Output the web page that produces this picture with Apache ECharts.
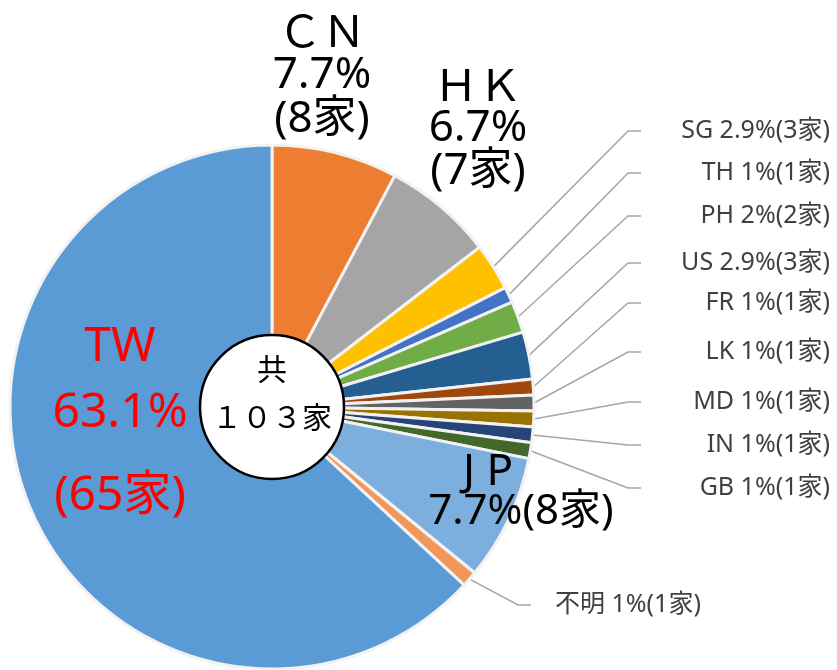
<!DOCTYPE html>
<html><head><meta charset="utf-8">
<script src="https://cdn.jsdelivr.net/npm/echarts@6/dist/echarts.min.js"></script>
<style>html,body{margin:0;padding:0;background:#fff}#c{width:837px;height:670px}</style>
</head><body><div id="c"></div>
<script>
// ---- data ----
const categories = ['CN','HK','SG','TH','PH','US','FR','LK','MD','IN','GB','JP','不明','TW'];
const counts     = [8, 7, 3, 1, 2, 3, 1, 1, 1, 1, 1, 8, 1, 65];
const pctLabels  = ['7.7%','6.7%','2.9%','1%','2%','2.9%','1%','1%','1%','1%','1%','7.7%','1%','63.1%'];
const totalText  = '共';

// ---- styles ----
const colors = ['#ED7D31','#A5A5A5','#FFC000','#4472C4','#70AD47','#255E91','#9E480E','#636363','#997300','#264478','#43682B','#7CAFDD','#F1975A','#5B9BD5'];
const FONT = "'Noto Sans','Noto Sans CJK JP',sans-serif";
const SMALL = 25;
const labelPos = {
  CN:{x:322,y:78,align:'center'}, HK:{x:478,y:131,align:'center'},
  TW:{x:120,y:415,align:'center'}, JP:{x:521,y:490,align:'center'},
  SG:{x:830,y:131,align:'right'}, TH:{x:830,y:173,align:'right'},
  PH:{x:830,y:216,align:'right'}, US:{x:830,y:263,align:'right'},
  FR:{x:830,y:303,align:'right'}, LK:{x:830,y:352,align:'right'},
  MD:{x:830,y:402,align:'right'}, IN:{x:830,y:445,align:'right'},
  GB:{x:830,y:488,align:'right'}, '不明':{x:531,y:605,align:'left'}
};
const bigLines = { CN:[47,35,53], HK:[47,33,53] };
const LINE_END_X = 641;
const fw = s => s.replace(/[0-9A-Za-z]/g, ch => String.fromCharCode(ch.charCodeAt(0)+0xFEE0));
const total = counts.reduce((a,b)=>a+b,0);
const mctx = document.createElement('canvas').getContext('2d');
mctx.font = SMALL + 'px ' + FONT;
const textW = s => mctx.measureText(s).width;

const data = categories.map((c,i)=>{
  const item = {name:c, value:counts[i], itemStyle:{color:colors[i]}};
  const cnt = '(' + counts[i] + '家)';
  if (c==='CN' || c==='HK') {
    const lh = bigLines[c];
    const st = h => ({fontSize:44, lineHeight:h, color:'#000', fontFamily:FONT, align:'center'});
    item.label = {formatter: '{a|'+fw(c)+'}\n{b|'+pctLabels[i]+'}\n{c|'+cnt+'}', color:'#000',
      rich:{a:st(lh[0]), b:st(lh[1]), c:st(lh[2])}};
    item.labelLine = {show:false};
  } else if (c==='TW') {
    item.label = {formatter: '{h|'+c+'}\n{t|'+pctLabels[i]+'}\n{g| }\n{t|'+cnt+'}', color:'#FF0000',
      rich:{h:{fontSize:48, lineHeight:80, color:'#FF0000', fontFamily:FONT, align:'center'},
            t:{fontSize:48, lineHeight:52, color:'#FF0000', fontFamily:FONT, align:'center'},
            g:{fontSize:10, lineHeight:31, fontFamily:FONT}}};
    item.labelLine = {show:false};
  } else if (c==='JP') {
    item.label = {formatter: '{a|J P}\n{b|'+pctLabels[i]+cnt+'}', color:'#000',
      rich:{a:{fontSize:44,lineHeight:44,fontFamily:FONT,padding:[0,66,0,0]}, b:{fontSize:42,lineHeight:35,fontFamily:FONT}}};
    item.labelLine = {show:false};
  } else if (c==='不明') {
    item.label = {formatter: c+' '+pctLabels[i]+cnt, fontSize:SMALL, color:'#404040', padding:[0,0,0,24], backgroundColor:'transparent'};
  } else {
    const s = c+' '+pctLabels[i]+cnt;
    const padL = Math.max(0, (830 - LINE_END_X) - textW(s));
    item.label = {formatter: s, fontSize:SMALL, color:'#404040', padding:[0,0,0,padL], backgroundColor:'transparent'};
  }
  return item;
});

const chart = echarts.init(document.getElementById('c'), null, {renderer:'canvas'});
chart.setOption({
  animation:false,
  backgroundColor:'#fff',
  series:[{
    type:'pie',
    center:[272,407],
    radius:262,
    startAngle:90,
    clockwise:true,
    avoidLabelOverlap:false,
    emphasis:{disabled:true},
    itemStyle:{borderColor:'#f2f2f2', borderWidth:3},
    label:{show:true, position:'outside', fontFamily:FONT},
    labelLine:{show:true, length:10, length2:13, smooth:false, minTurnAngle:10, lineStyle:{color:'#A6A6A6', width:1.5}},
    labelLayout:function(p){
      const pos = labelPos[categories[p.dataIndex]];
      return {x:pos.x, y:pos.y, align:pos.align, verticalAlign:'middle', hideOverlap:false};
    },
    data:data
  },{
    type:'pie',
    center:[272,407],
    radius:72,
    silent:true,
    emphasis:{disabled:true},
    itemStyle:{color:'#fff', borderColor:'#000', borderWidth:2.5},
    label:{show:true, position:'center', formatter: totalText+'\n'+fw(String(total))+'家', fontSize:30, lineHeight:48, color:'#000', fontFamily:FONT, offset:[0,-12]},
    labelLine:{show:false},
    data:[{name:'total', value:total}]
  }]
});
</script></body></html>
